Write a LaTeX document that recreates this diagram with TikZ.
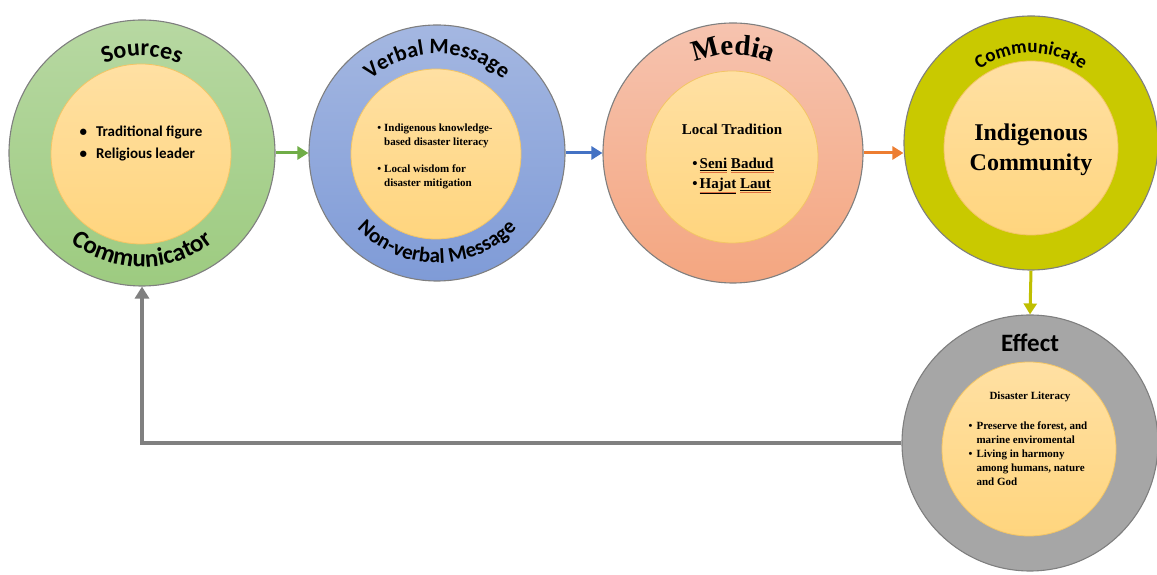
\documentclass[tikz,border=0pt]{standalone}
\usepackage{fontspec}
\setmainfont{Liberation Serif}
\newfontfamily\calb{Carlito}[BoldFont={Carlito Bold}]
\newfontfamily\tnr{Liberation Serif}
\usetikzlibrary{decorations.text,arrows.meta}
\definecolor{gtop}{HTML}{B7D8A2}
\definecolor{gbot}{HTML}{9DCB80}
\definecolor{btop}{HTML}{A4B7E1}
\definecolor{bbot}{HTML}{7F9BD7}
\definecolor{stop}{HTML}{F6C3AF}
\definecolor{sbot}{HTML}{F4A680}
\definecolor{ygreen}{HTML}{C9C900}
\definecolor{gring}{HTML}{A6A6A6}
\definecolor{itop}{HTML}{FFE0A3}
\definecolor{ibot}{HTML}{FFD57E}
\definecolor{istroke}{HTML}{F3C565}
\definecolor{ringline}{HTML}{7F7F7F}
\definecolor{agreen}{HTML}{70AD47}
\definecolor{ablue}{HTML}{4472C4}
\definecolor{aorange}{HTML}{ED7D31}
\definecolor{ayellow}{HTML}{BFBF00}
\definecolor{agray}{HTML}{808080}
\definecolor{spellc}{HTML}{E07040}
\newcommand\spl[1]{\setbox0\hbox{#1}\rlap{\underline{#1}}\raisebox{-3.8pt}{\color{spellc}\rule{\wd0}{0.7pt}}}
\tikzset{
  ring/.style={circle, draw=ringline, line width=1.1pt, inner sep=0pt, minimum size=#1},
  core/.style={circle, draw=istroke, line width=0.8pt, top color=itop, bottom color=ibot, inner sep=0pt, minimum size=#1},
  flow/.style={line width=3pt, -{Triangle[length=11pt,width=13pt]}},
  toptext/.style={decorate, decoration={text along path, text align=center, text={#1}}},
}
\begin{document}
\begin{tikzpicture}[x=1pt,y=1pt]
\useasboundingbox (0,0) rectangle (1157,575);
% outer rings
\node[ring=266pt, top color=gtop, bottom color=gbot] (o1) at (142,422) {};
\node[ring=256pt, top color=btop, bottom color=bbot] (o2) at (437,422) {};
\node[ring=260pt, top color=stop, bottom color=sbot] (o3) at (733,422) {};
\node[ring=254pt, fill=ygreen] (o4) at (1031,432) {};
\node[ring=256pt, fill=gring] (o5) at (1030,132) {};
% cores
\node[core=180pt] (i1) at (141,421) {};
\node[core=170pt] (i2) at (436,421) {};
\node[core=172pt] (i3) at (732,418) {};
\node[core=174pt] (i4) at (1031,427) {};
\node[core=174pt] (i5) at (1029,126) {};
% ring texts
\path[toptext={|\calb\bfseries\fontsize{24}{24}\selectfont|Sources}] (o1.center) ++(150:97) arc[start angle=150, end angle=30, radius=97];
\path[toptext={|\calb\bfseries\fontsize{25}{25}\selectfont|Communicator}] (o1.center) ++(205:114) arc[start angle=205, end angle=335, radius=114];
\path[toptext={|\calb\bfseries\fontsize{22}{22}\selectfont|Verbal Message}] (o2.center) ++(160:99) arc[start angle=160, end angle=20, radius=99];
\path[toptext={|\calb\bfseries\fontsize{21}{21}\selectfont|Non-verbal Message}] (o2.center) ++(195:110) arc[start angle=195, end angle=345, radius=110];
\path[toptext={|\tnr\bfseries\fontsize{29}{29}\selectfont|Media}] (o3.center) ++(140:98) arc[start angle=140, end angle=40, radius=98];
\path[toptext={|\calb\bfseries\fontsize{19}{19}\selectfont|Communicate}] (o4.center) ++(150:90) arc[start angle=150, end angle=30, radius=90];
\node[font=\calb\bfseries\fontsize{25}{25}\selectfont] (eff) at (1030,232) {Effect};
% inner texts
\node[font=\calb\bfseries\fontsize{15}{22}\selectfont, align=left] (t1) at (141,431)
  {\textbullet\hspace{9pt}Traditional figure\\\textbullet\hspace{9pt}Religious leader};
\node[font=\tnr\bfseries\fontsize{11}{14}\selectfont, inner sep=0pt] (t2) at (435,419)
  {\begin{tabular}{@{}l@{\hspace{3pt}}l@{}}\textbullet & Indigenous knowledge-\\ & based disaster literacy\\[13pt]
   \textbullet & Local wisdom for\\ & disaster mitigation\end{tabular}};
\node[font=\tnr\bfseries\fontsize{15}{18}\selectfont] (t3a) at (732,446) {Local Tradition};
\node[font=\tnr\bfseries\fontsize{15}{20}\selectfont, align=left] (t3b) at (733,399)
  {\textbullet\hspace{2pt}\spl{Seni}\ \spl{Badud}\\\textbullet\hspace{2pt}\spl{Hajat}\ \spl{Laut}};
\node[font=\tnr\bfseries\fontsize{24}{30}\selectfont, align=center] (t4) at (1031,425) {Indigenous\\Community};
\node[font=\tnr\bfseries\fontsize{11}{14}\selectfont] (t5a) at (1030,178) {Disaster Literacy};
\node[font=\tnr\bfseries\fontsize{11}{14}\selectfont, inner sep=0pt] (t5b) at (1028,120)
  {\begin{tabular}{@{}l@{\hspace{4pt}}l@{}}\textbullet & Preserve the forest, and\\ & marine enviromental\\
   \textbullet & Living in harmony\\ & among humans, nature\\ & and God\end{tabular}};
% connectors
\draw[flow, agreen] (o1.east) -- (o2.west);
\draw[flow, ablue] (o2.east) -- (o3.west);
\draw[flow, aorange] (o3.east) -- (o3.east -| o4.west);
\draw[flow, ayellow] (o4.south) -- (o5.north);
\draw[line width=4pt, agray, -{Triangle[length=12pt,width=14pt]}] (o5.west) -| (o1.south);
\end{tikzpicture}
\end{document}
